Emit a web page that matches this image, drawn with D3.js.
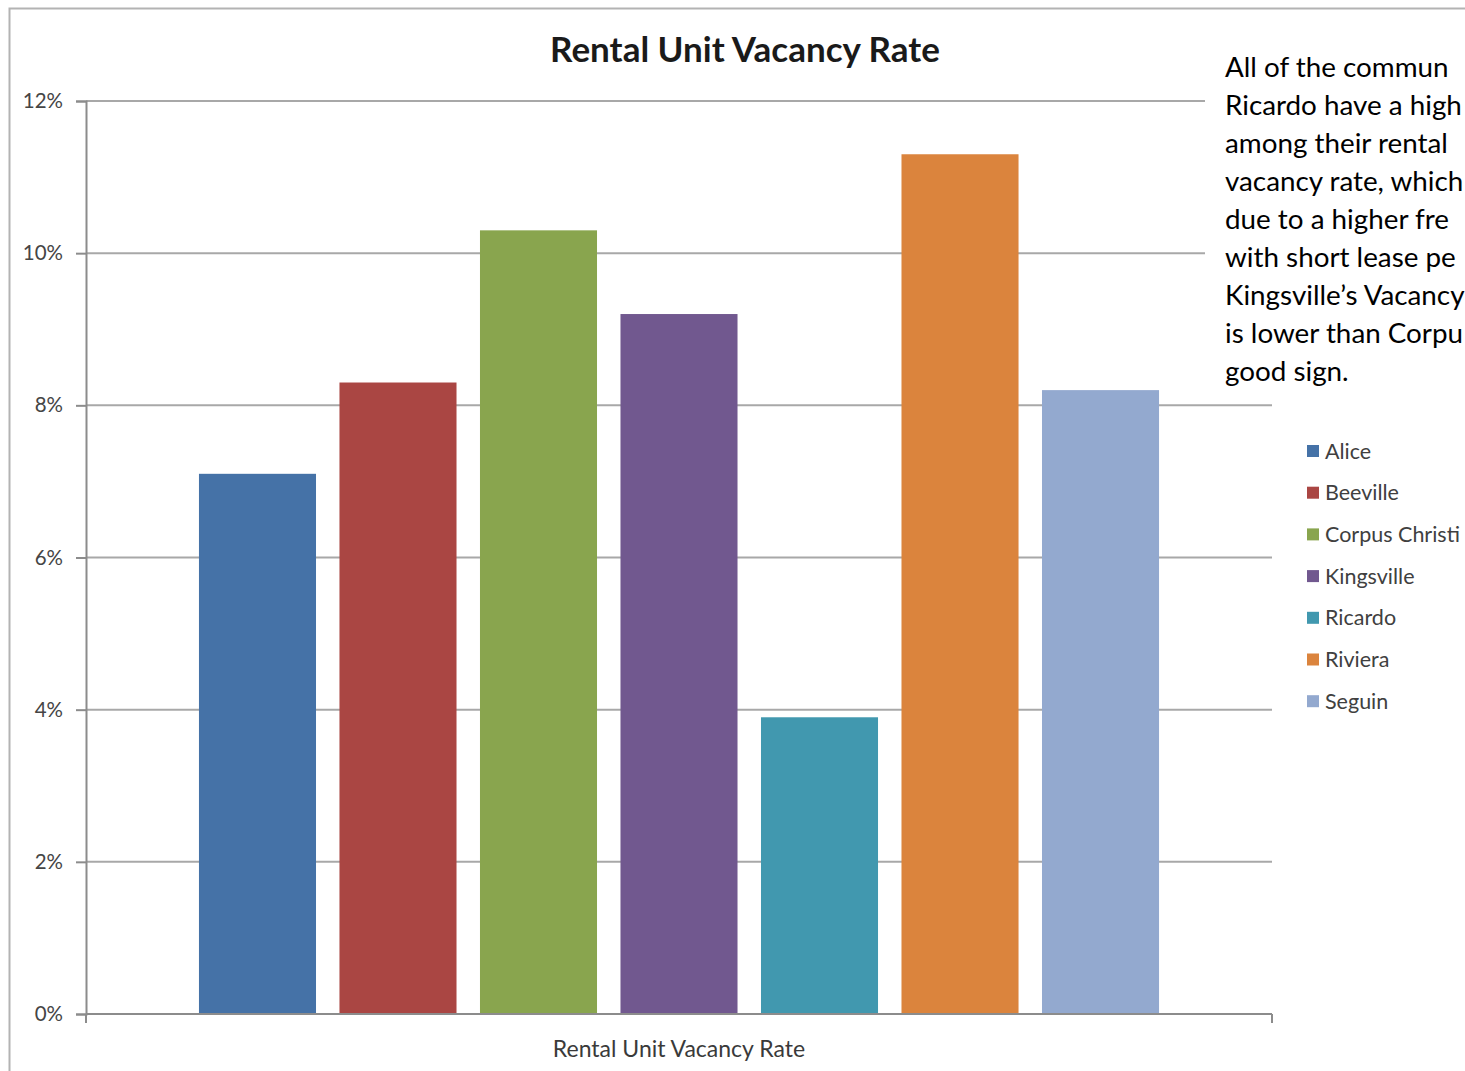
<!DOCTYPE html>
<html>
<head>
<meta charset="utf-8">
<script src="https://cdn.jsdelivr.net/npm/d3@7/dist/d3.min.js"></script>
<style>
  html, body { margin: 0; padding: 0; background: #fff; overflow: hidden; }
  svg { display: block; }
</style>
</head>
<body>
<script>
// Rental unit vacancy rate by community (percent)
const categories = ["Alice", "Beeville", "Corpus Christi", "Kingsville", "Ricardo", "Riviera", "Seguin"];
const vacancyRates = [7.1, 8.3, 10.3, 9.2, 3.9, 11.3, 8.2];
const barColors = ["#4572a7", "#aa4643", "#89a54e", "#71588f", "#4198af", "#db843d", "#93a9cf"];
const yTicks = [0, 2, 4, 6, 8, 10, 12];
const chartTitle = "Rental Unit Vacancy Rate";
const axisTitle = "Rental Unit Vacancy Rate";
const noteLines = [
  "All of the commun",
  "Ricardo have a high",
  "among their rental",
  "vacancy rate, which",
  "due to a higher fre",
  "with short lease pe",
  "Kingsville\u2019s Vacancy",
  "is lower than Corpu",
  "good sign."
];

const W = 1465, H = 1071;
const font = "Lato, 'Open Sans', sans-serif";

const svg = d3.select("body").append("svg")
  .attr("width", W).attr("height", H);

// chart frame
svg.append("rect")
  .attr("x", 9.5).attr("y", 8.5)
  .attr("width", W + 20).attr("height", H + 20)
  .attr("fill", "#fff")
  .attr("stroke", "#b3b3b3").attr("stroke-width", 2);

const plot = { left: 86, right: 1272, top: 101, bottom: 1014 };

const y = d3.scaleLinear().domain([0, 12]).range([plot.bottom, plot.top]);
const x = d3.scaleBand()
  .domain(categories)
  .range([plot.left, plot.right])
  .paddingInner(0.167)
  .paddingOuter(0.804);

// gridlines
svg.append("g")
  .selectAll("line")
  .data(yTicks.filter(t => t > 0))
  .join("line")
  .attr("x1", plot.left).attr("x2", plot.right)
  .attr("y1", d => y(d)).attr("y2", d => y(d))
  .attr("stroke", "#a8a8a8").attr("stroke-width", 2);

// y axis
const yAxis = svg.append("g")
  .attr("transform", `translate(${plot.left},0)`)
  .call(d3.axisLeft(y).tickValues(yTicks).tickSize(10).tickPadding(13)
    .tickFormat(d => d + "%"));
yAxis.select(".domain").attr("stroke", "#8c8c8c").attr("stroke-width", 2);
yAxis.selectAll(".tick line").attr("stroke", "#8c8c8c").attr("stroke-width", 2);
yAxis.selectAll(".tick text")
  .attr("fill", "#454545")
  .style("font-family", font).style("font-size", "20.5px");

// bars
svg.append("g")
  .selectAll("rect")
  .data(categories.map((c, i) => ({ c, v: vacancyRates[i], col: barColors[i] })))
  .join("rect")
  .attr("x", d => x(d.c))
  .attr("width", x.bandwidth())
  .attr("y", d => y(d.v))
  .attr("height", d => y(0) - y(d.v))
  .attr("fill", d => d.col);

// x axis baseline with end ticks
const xAxis = svg.append("g");
xAxis.append("line")
  .attr("x1", plot.left).attr("x2", plot.right)
  .attr("y1", y(0)).attr("y2", y(0))
  .attr("stroke", "#8c8c8c").attr("stroke-width", 2);
xAxis.selectAll("line.end")
  .data([plot.left, plot.right])
  .join("line")
  .attr("class", "end")
  .attr("x1", d => d).attr("x2", d => d)
  .attr("y1", y(0)).attr("y2", y(0) + 9)
  .attr("stroke", "#8c8c8c").attr("stroke-width", 2);

xAxis.append("text")
  .attr("x", (plot.left + plot.right) / 2)
  .attr("y", 1057)
  .attr("text-anchor", "middle")
  .attr("fill", "#3a3a3a")
  .style("font-family", font).style("font-size", "23px")
  .text(axisTitle);

// title
svg.append("text")
  .attr("x", 745).attr("y", 62)
  .attr("text-anchor", "middle")
  .attr("fill", "#1a1a1a")
  .style("font-family", font).style("font-size", "35px").style("font-weight", "bold")
  .text(chartTitle);

// legend
const legend = svg.append("g").attr("transform", "translate(1307,451)");
const item = legend.selectAll("g")
  .data(categories.map((c, i) => ({ c, col: barColors[i] })))
  .join("g")
  .attr("transform", (d, i) => `translate(0,${i * 41.7})`);
item.append("rect")
  .attr("x", 0).attr("y", -6).attr("width", 12).attr("height", 12)
  .attr("fill", d => d.col);
item.append("text")
  .attr("x", 18).attr("y", 0).attr("dy", "0.35em")
  .attr("fill", "#404040")
  .style("font-family", font).style("font-size", "21.5px")
  .text(d => d.c);

// note text box
const note = svg.append("g");
note.append("rect")
  .attr("x", 1205).attr("y", 40)
  .attr("width", W - 1205).attr("height", 355)
  .attr("fill", "#fff");
note.selectAll("text")
  .data(noteLines)
  .join("text")
  .attr("x", 1225)
  .attr("y", (d, i) => 77 + i * 38)
  .attr("fill", "#000")
  .style("font-family", font).style("font-size", "27.8px")
  .text(d => d);
</script>
</body>
</html>
